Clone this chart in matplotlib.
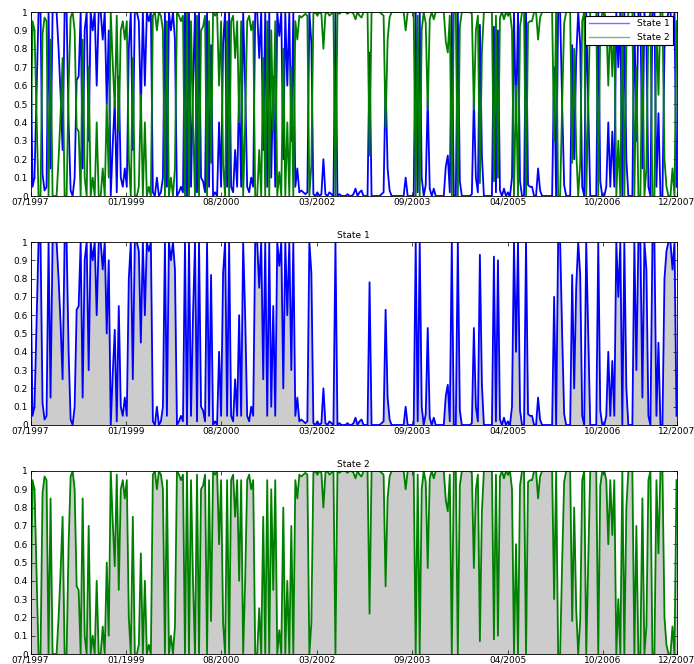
import numpy as np
import matplotlib
matplotlib.use("Agg")
from matplotlib import pyplot as plt

# filtered probability of state 1 (state 2 is its complement)
prob_state1 = [
    0.9, 0.05, 0.1, 0.55, 1, 1, 0.12, 0.03, 0.05, 1,
    0.15, 1, 1, 1, 0.8, 0.55, 0.25, 1, 1, 0.4,
    0.03, 0.0, 0.1, 0.63, 0.65, 1, 0.15, 0.9, 1, 0.3,
    1, 0.9, 1, 0.6, 1, 1, 0.85, 1, 0.5, 0.9,
    0.0, 0.28, 0.52, 0.02, 0.65, 0.1, 0.05, 0.15, 0.05, 0.8,
    1, 0.25, 1, 1, 0.95, 0.45, 1, 0.6, 1, 0.95,
    1, 0.02, 0.0, 0.1, 0.0, 0.02, 0.1, 1, 0.05, 1,
    0.9, 1, 0.85, 0.0, 0.02, 0.05, 0.02, 1, 0.0, 1,
    0.05, 0.6, 1, 0.02, 1, 0.1, 0.08, 0.02, 1, 0.05,
    0.82, 0.0, 0.02, 0.0, 0.4, 0.05, 0.83, 1, 0.05, 1,
    0.05, 0.02, 0.25, 0.05, 0.6, 0.05, 1, 0.6, 0.05, 0.02,
    0.1, 0.05, 1, 1, 0.75, 1, 0.25, 1, 0.05, 1,
    0.1, 0.65, 0.05, 1, 0.87, 1, 0.2, 1, 0.6, 1,
    0.3, 1, 0.05, 0.15, 0.02, 0.03, 0.02, 0.01, 0.02, 1,
    0.83, 0.01, 0.0, 0.02, 0.0, 0.01, 0.2, 0.01, 0.0, 0.02,
    0.01, 0.0, 1, 0.0, 0.01, 0.0, 0.0, 0.0, 0.01, 0.0,
    0.0, 0.01, 0.04, 0.0, 0.02, 0.03, 0.0, 0.0, 0.0, 0.78,
    0.0, 0.0, 0.0, 0.0, 0.0, 0.01, 0.02, 0.63, 0.15, 0.03,
    0.0, 0.0, 0.0, 0.0, 0.0, 0.0, 0.0, 0.1, 0.0, 0.0,
    0.0, 0.0, 1, 0.02, 1, 0.1, 0.0, 0.06, 0.53, 0.04,
    0.0, 0.04, 0.0, 0.0, 0.0, 0.0, 0.0, 0.16, 0.22, 0.02,
    1, 0.0, 0.0, 1, 0.08, 0.0, 0.0, 0.0, 0.0, 0.0,
    0.01, 0.53, 0.1, 0.02, 0.93, 0.22, 0.0, 0.0, 0.0, 0.0,
    0.0, 0.92, 0.02, 0.9, 0.03, 0.0, 0.04, 0.0, 0.02, 0.0,
    0.1, 1, 0.4, 1, 0.08, 0.0, 0.0, 1, 0.06, 0.05,
    0.05, 0.0, 0.0, 0.15, 0.03, 0.0, 0.0, 0.0, 0.0, 0.0,
    0.0, 0.7, 0.0, 1, 1, 0.5, 0.06, 0.0, 0.0, 0.0,
    0.82, 0.2, 0.75, 1, 0.82, 0.05, 0.0, 1, 0.5, 0.0,
    0.0, 0.0, 0.0, 1, 0.08, 0.0, 0.0, 0.05, 0.4, 0.05,
    0.35, 0.05, 1, 0.7, 1, 0.0, 1, 0.2, 0.0, 0.0,
    0.0, 1, 0.3, 1, 1, 0.15, 1, 0.85, 0.05, 0.0,
    1, 1, 0.05, 0.45, 0.0, 0.0, 0.8, 0.95, 1, 1,
    0.85, 1, 0.05,
]

tick_labels = ["07/1997", "01/1999", "08/2000", "03/2002",
               "09/2003", "04/2005", "10/2006", "12/2007"]
n_obs = 2640
tick_step = 390

BLUE = (0, 0, 1)
GREEN = (0, 0.5, 0)
GREY = (0.8, 0.8, 0.8)
LW = 1.3
FS = 6.5


def style_axis(ax):
    ax.set_xlim(0, n_obs)
    ax.set_ylim(0, 1)
    ticks = list(range(0, n_obs, tick_step)) + [n_obs]
    ax.set_xticks(ticks)
    ax.set_xticklabels(tick_labels)
    ax.set_yticks(np.arange(0, 1.01, 0.1))
    ax.set_yticklabels(["0"] + ["%.1f" % v for v in np.arange(0.1, 0.95, 0.1)] + ["1"])
    ax.tick_params(direction="in", length=3, width=0.5, top=True, right=True,
                   labelsize=FS)
    ax.tick_params(axis="x", pad=1)
    ax.tick_params(axis="y", pad=2)
    for sp in ax.spines.values():
        sp.set_linewidth(0.6)


def main():
    plt.rcParams["font.family"] = ["DejaVu Sans"]
    p1 = np.array(prob_state1)
    p2 = 1 - p1
    x = np.linspace(0, n_obs, len(p1))

    fig = plt.figure(figsize=(6.94, 6.64), dpi=100)
    W, H = 694.0, 664.0
    left, right = 30.5 / W, 676.5 / W
    tops = [12, 242, 471]
    bottoms = [196, 425, 654]
    axes = [fig.add_axes([left, 1 - b / H, right - left, (b - t) / H])
            for t, b in zip(tops, bottoms)]

    # both states together
    ax = axes[0]
    ax.plot(x, p1, color=BLUE, lw=LW, label="State 1")
    ax.plot(x, p2, color=GREEN, lw=LW, label="State 2")
    style_axis(ax)
    leg = ax.legend(loc="upper right", fontsize=FS, handlelength=4.5,
                    fancybox=False, borderaxespad=0.4, framealpha=1)
    leg.get_frame().set_edgecolor("black")
    leg.get_frame().set_linewidth(0.8)
    for line in leg.get_lines():
        line.set_alpha(0.55)
        line.set_linewidth(1.0)

    # each state on its own, area under the probability shaded
    for ax, p, col, name in [(axes[1], p1, BLUE, "State 1"),
                             (axes[2], p2, GREEN, "State 2")]:
        ax.fill_between(x, 0, p, color=GREY, lw=0)
        ax.plot(x, p, color=col, lw=LW)
        style_axis(ax)
        ax.set_title(name, fontsize=FS, pad=3)

    fig.savefig("out.png", dpi=100)


if __name__ == "__main__":
    main()
